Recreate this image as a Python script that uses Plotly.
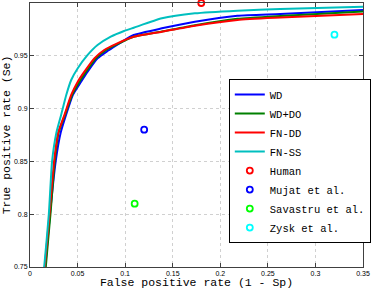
import plotly.graph_objects as go

# ROC curves (false positive rate, true positive rate)
wd_fpr = [0.0150, 0.0160, 0.0210, 0.0270, 0.0322, 0.0381, 0.0450, 0.0537, 0.0606, 0.0710, 0.0814, 0.0953, 0.1090, 0.1386, 0.1733, 0.2180, 0.2630, 0.3500]
wd_tpr = [0.740, 0.750, 0.800, 0.850, 0.877, 0.8946, 0.9129, 0.9255, 0.935, 0.9476, 0.9545, 0.9625, 0.9697, 0.976, 0.9823, 0.988, 0.9896, 0.9934]

wddo_fpr = [0.0160, 0.0166, 0.0215, 0.0260, 0.0300, 0.0370, 0.0442, 0.0520, 0.0590, 0.0693, 0.0800, 0.0935, 0.1090, 0.1386, 0.1733, 0.2180, 0.2630, 0.3500]
wddo_tpr = [0.740, 0.750, 0.800, 0.850, 0.877, 0.8946, 0.9129, 0.9255, 0.935, 0.9476, 0.9555, 0.9618, 0.968, 0.973, 0.979, 0.985, 0.9877, 0.992]

fndd_fpr = [0.0145, 0.0155, 0.0205, 0.0253, 0.0295, 0.0364, 0.0433, 0.0502, 0.0572, 0.0676, 0.0780, 0.0918, 0.1090, 0.1386, 0.1733, 0.2180, 0.2630, 0.3500]
fndd_tpr = [0.740, 0.750, 0.800, 0.850, 0.877, 0.8946, 0.9129, 0.9255, 0.935, 0.9476, 0.9555, 0.9618, 0.968, 0.9728, 0.9785, 0.984, 0.9862, 0.9896]

fnss_fpr = [0.0135, 0.0149, 0.0198, 0.0232, 0.0277, 0.0329, 0.0381, 0.0433, 0.0502, 0.0606, 0.0710, 0.0849, 0.0988, 0.1090, 0.1386, 0.1733, 0.2180, 0.2630, 0.3500]
fnss_tpr = [0.740, 0.750, 0.800, 0.850, 0.877, 0.8946, 0.9129, 0.9271, 0.9382, 0.9508, 0.9602, 0.9681, 0.9735, 0.9766, 0.9855, 0.9902, 0.9927, 0.9943, 0.9965]

# Literature / human operating points
point_names = ["Human", "Mujat et al.", "Savastru et al.", "Zysk et al."]
point_fpr = [0.18, 0.12, 0.11, 0.32]
point_tpr = [1.0, 0.88, 0.81, 0.97]
point_colors = ["#ff0000", "#0000ff", "#00ff00", "#00ffff"]

x_ticks = [0, 0.05, 0.1, 0.15, 0.2, 0.25, 0.3, 0.35]
x_ticklabels = ["0", "0.05", "0.1", "0.15", "0.2", "0.25", "0.3", "0.35"]
y_ticks = [0.75, 0.8, 0.85, 0.9, 0.95, 1]
y_ticklabels = ["0.75", "0.8", "0.85", "0.9", "0.95", "1"]

mono = "Liberation Mono, Courier New, monospace"

fig = go.Figure()
curves = [
    ("WD", wd_fpr, wd_tpr, "#0000ff"),
    ("WD+DO", wddo_fpr, wddo_tpr, "#008000"),
    ("FN-DD", fndd_fpr, fndd_tpr, "#ff0000"),
    ("FN-SS", fnss_fpr, fnss_tpr, "#00bfbf"),
]
for name, xs, ys, c in curves:
    fig.add_trace(go.Scatter(x=xs, y=ys, mode="lines", name=name,
                             line=dict(color=c, width=2, shape="spline", smoothing=0.5)))

for name, xv, yv, c in zip(point_names, point_fpr, point_tpr, point_colors):
    fig.add_trace(go.Scatter(x=[xv], y=[yv], mode="markers", name=name, cliponaxis=False,
                             marker=dict(symbol="circle-open", size=6, color=c,
                                         line=dict(color=c, width=1.8))))

axis_common = dict(
    showline=True, linecolor="#404040", linewidth=1, mirror="ticks",
    ticks="inside", ticklen=4, tickcolor="#404040", tickwidth=1,
    showgrid=True, gridcolor="#d0d0d0", griddash="dot", gridwidth=1,
    zeroline=False, automargin=False,
    tickfont=dict(family="Liberation Sans, Arial, sans-serif", size=7, color="#000000"),
)

fig.update_xaxes(range=[0, 0.35], tickvals=x_ticks, ticktext=x_ticklabels,
                 title=dict(text="False positive rate (1 - Sp)", font=dict(family=mono, size=11.5, color="#000")),
                 **axis_common)
fig.update_yaxes(range=[0.75, 1], tickvals=y_ticks, ticktext=y_ticklabels,
                 title=dict(text="True positive rate (Se)", font=dict(family=mono, size=11.5, color="#000")),
                 **axis_common)

fig.update_layout(
    width=374, height=289,
    margin=dict(l=30, r=7, t=3, b=22),
    paper_bgcolor="white", plot_bgcolor="white",
    showlegend=True,
    legend=dict(x=0.597, y=0.712, xanchor="left", yanchor="top",
                bgcolor="white", bordercolor="#000000", borderwidth=1,
                font=dict(family=mono, size=10.5, color="#000"),
                tracegroupgap=0),
)

fig.write_html("out.html", config={"displayModeBar": False},
               post_script="document.body.style.margin='0';document.body.style.padding='0';document.body.style.overflow='hidden';")
